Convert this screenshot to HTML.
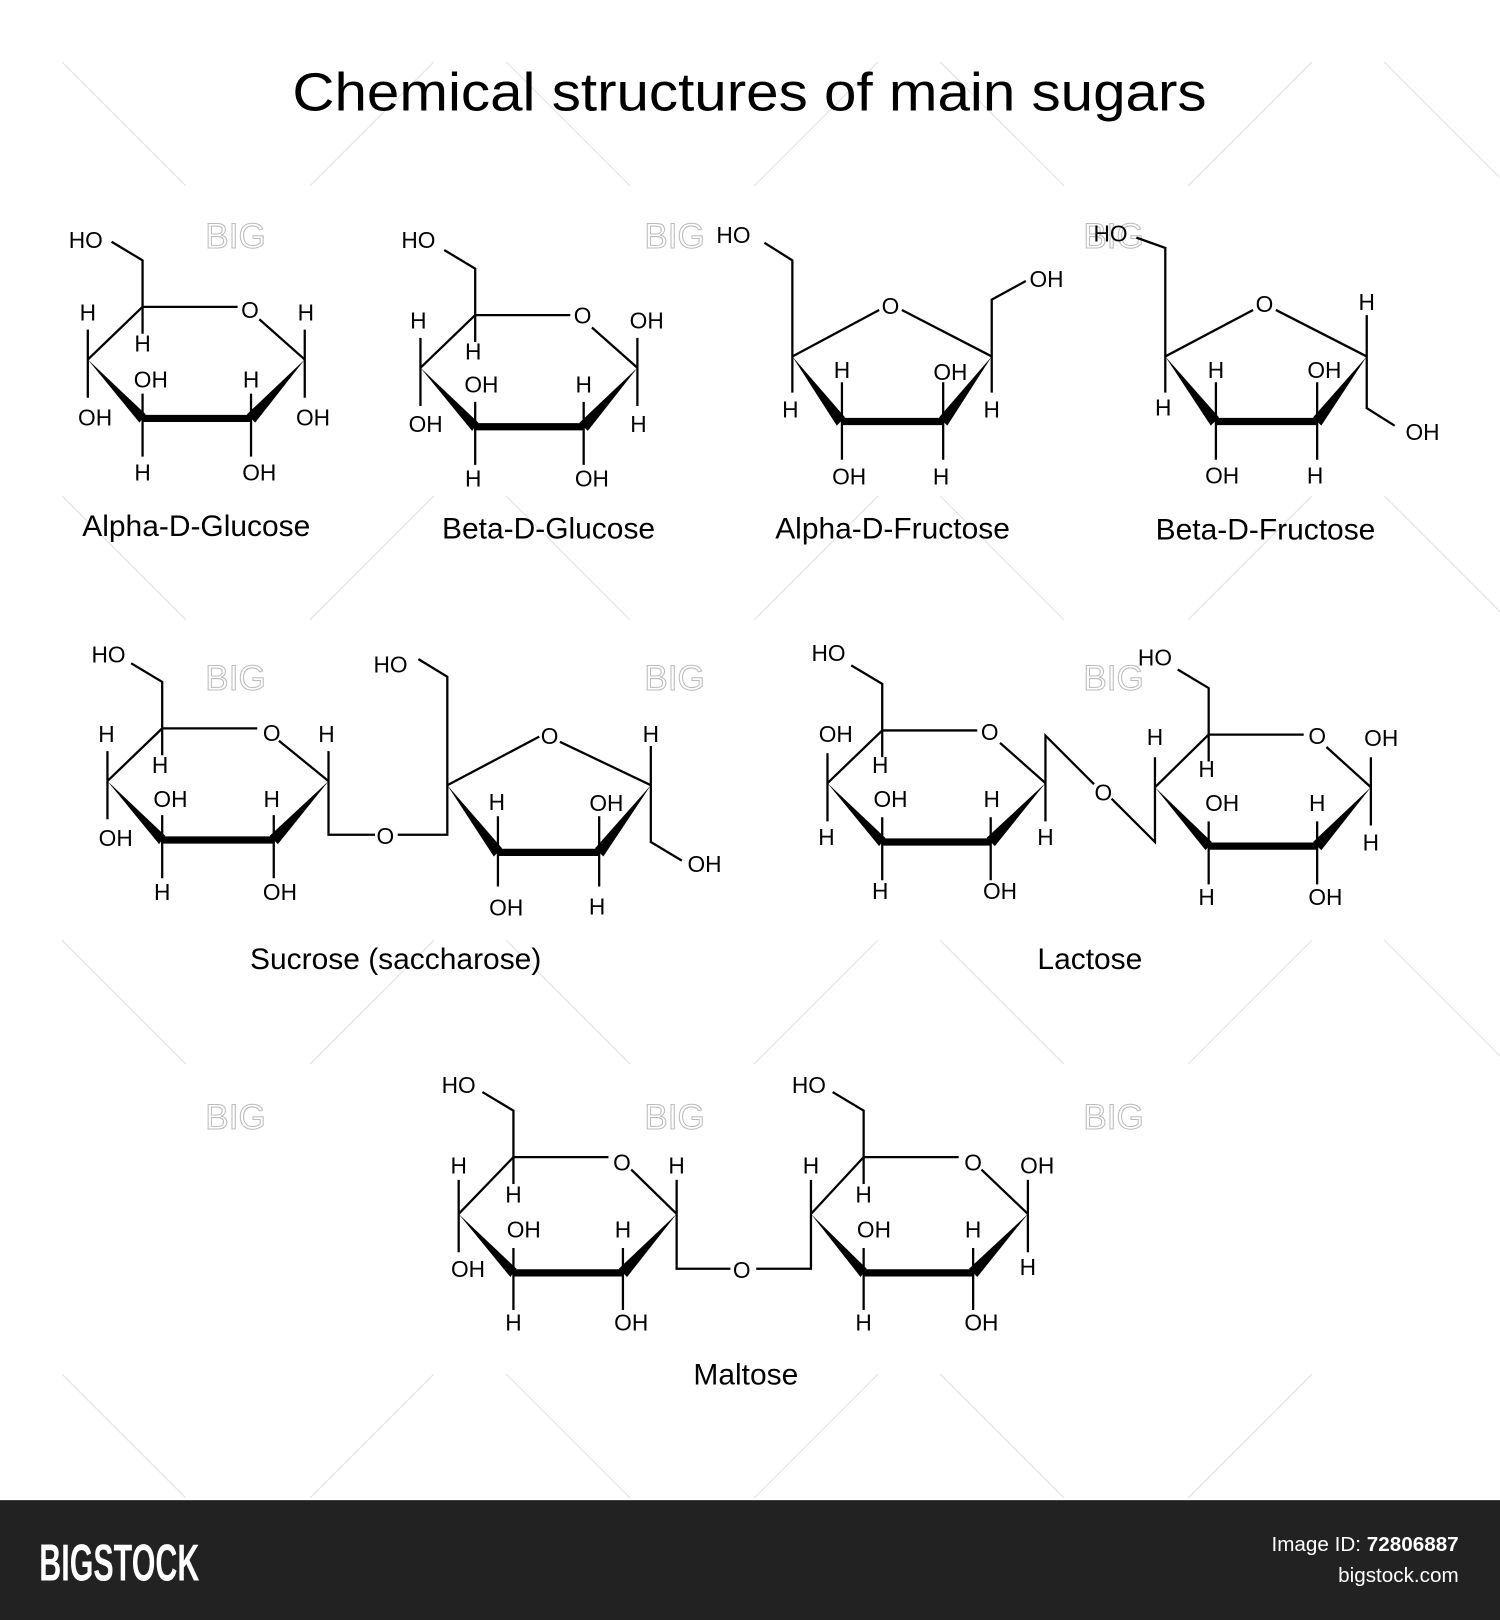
<!DOCTYPE html>
<html><head><meta charset="utf-8"><style>
html,body{margin:0;padding:0;background:#fff;}
svg{display:block;}
.s{stroke:#000;stroke-width:2.2;fill:none;}
.w{fill:#000;stroke:none;}
.b{stroke:#000;stroke-width:7;}
text{font-family:"Liberation Sans",Arial,sans-serif;fill:#000;}
.t{font-size:22px;text-anchor:middle;}
.l{font-size:29px;text-anchor:middle;}
.wm{font-size:34px;fill:none;stroke:#bbb;stroke-width:1;text-anchor:middle;}
</style></head><body>
<svg width="1500" height="1620" viewBox="0 0 1452 1568" preserveAspectRatio="none" xmlns="http://www.w3.org/2000/svg">
<rect width="1452" height="1568" fill="#fff"/>
<g stroke="#e4e4e4" stroke-width="1.2">
<path d="M60,60L180,180 M420,60L300,180 M490,60L610,180 M850,60L730,180 M910,60L1030,180 M1270,60L1150,180 M1340,60L1460,180"/>
<path d="M60,480L180,600 M420,480L300,600 M490,480L610,600 M850,480L730,600 M910,480L1030,600 M1270,480L1150,600 M1340,480L1460,600"/>
<path d="M60,910L180,1030 M420,910L300,1030 M490,910L610,1030 M850,910L730,1030 M910,910L1030,1030 M1270,910L1150,1030 M1340,910L1460,1030"/>
<path d="M60,1330L180,1450 M420,1330L300,1450 M490,1330L610,1450 M850,1330L730,1450 M910,1330L1030,1450 M1270,1330L1150,1450"/>
</g>
<text class="wm" x="228" y="240">BIG</text><text class="wm" x="653" y="240">BIG</text><text class="wm" x="1078" y="240">BIG</text>
<text class="wm" x="228" y="668">BIG</text><text class="wm" x="653" y="668">BIG</text><text class="wm" x="1078" y="668">BIG</text>
<text class="wm" x="228" y="1093">BIG</text><text class="wm" x="653" y="1093">BIG</text><text class="wm" x="1078" y="1093">BIG</text>

<text x="283" y="107" textLength="885" lengthAdjust="spacingAndGlyphs" style="font-size:52px">Chemical structures of main sugars</text>

<!-- Alpha-D-Glucose -->
<g transform="translate(138,297)">
<path class="s" d="M0,0V-45L-30,-63 M0,0H92 M113,12L157,51 M0,0L-53,51"/>
<polygon class="w" points="-53,51 3,104 -3,112"/><path class="b" d="M0,108H105"/><polygon class="w" points="101,104 109,112 157,51"/>
<path class="s" d="M0,0V26 M-53,51V22 M-53,51V88 M0,108V84 M0,108V145 M105,108V84 M105,108V145 M157,51V22 M157,51V88"/>
<text class="t" x="-55" y="-57">HO</text><text class="t" x="104" y="11">O</text>
<text class="t" x="0" y="43">H</text><text class="t" x="-53" y="13">H</text><text class="t" x="-46" y="115">OH</text>
<text class="t" x="8" y="78">OH</text><text class="t" x="0" y="168">H</text><text class="t" x="105" y="78">H</text>
<text class="t" x="113" y="168">OH</text><text class="t" x="158" y="13">H</text><text class="t" x="165" y="115">OH</text>
</g>
<text class="l" x="190" y="519">Alpha-D-Glucose</text>

<!-- Beta-D-Glucose -->
<g transform="translate(460,305)">
<path class="s" d="M0,0V-45L-30,-63 M0,0H92 M113,12L157,51 M0,0L-53,51"/>
<polygon class="w" points="-53,51 3,104 -3,112"/><path class="b" d="M0,108H105"/><polygon class="w" points="101,104 109,112 157,51"/>
<path class="s" d="M0,0V26 M-53,51V22 M-53,51V88 M0,108V84 M0,108V145 M105,108V84 M105,108V145 M157,51V22 M157,51V88"/>
<text class="t" x="-55" y="-65">HO</text><text class="t" x="104" y="8">O</text>
<text class="t" x="-2" y="43">H</text><text class="t" x="-55" y="13">H</text><text class="t" x="-48" y="113">OH</text>
<text class="t" x="6" y="75">OH</text><text class="t" x="-2" y="166">H</text><text class="t" x="105" y="75">H</text>
<text class="t" x="113" y="166">OH</text><text class="t" x="166" y="13">OH</text><text class="t" x="158" y="113">H</text>
</g>
<text class="l" x="531" y="521">Beta-D-Glucose</text>

<!-- Alpha-D-Fructose -->
<g>
<path class="s" d="M767,345V252L740,235 M767,345L851,300 M873,300L960,345 M960,345V290L993,272"/>
<polygon class="w" points="767,345 818,404 810,412"/><path class="b" d="M815,408H913"/><polygon class="w" points="909,404 917,412 960,345"/>
<path class="s" d="M767,345V380 M960,345V380 M815,408V370 M815,408V445 M913,408V370 M913,408V445"/>
<text class="t" x="710" y="235">HO</text><text class="t" x="862" y="304">O</text><text class="t" x="1013" y="278">OH</text>
<text class="t" x="765" y="404">H</text><text class="t" x="960" y="404">H</text>
<text class="t" x="815" y="366">H</text><text class="t" x="822" y="469">OH</text>
<text class="t" x="920" y="368">OH</text><text class="t" x="911" y="469">H</text>
</g>
<text class="l" x="864" y="521">Alpha-D-Fructose</text>

<!-- Beta-D-Fructose -->
<g>
<path class="s" d="M1128,345V240L1100,230 M1128,345L1213,300 M1235,300L1323,345 M1323,345V395L1350,412"/>
<polygon class="w" points="1128,345 1180,404 1172,412"/><path class="b" d="M1177,408H1275"/><polygon class="w" points="1271,404 1279,412 1323,345"/>
<path class="s" d="M1128,345V380 M1323,345V305 M1177,408V370 M1177,408V445 M1275,408V370 M1275,408V445"/>
<text class="t" x="1075" y="234">HO</text><text class="t" x="1224" y="302">O</text><text class="t" x="1323" y="300">H</text>
<text class="t" x="1126" y="402">H</text><text class="t" x="1377" y="426">OH</text>
<text class="t" x="1177" y="366">H</text><text class="t" x="1183" y="468">OH</text>
<text class="t" x="1282" y="366">OH</text><text class="t" x="1273" y="468">H</text>
</g>
<text class="l" x="1225" y="522">Beta-D-Fructose</text>

<!-- Sucrose glucose -->
<g transform="translate(157,705)">
<path class="s" d="M0,0V-45L-30,-63 M0,0H92 M113,12L161,51 M0,0L-53,51"/>
<polygon class="w" points="-53,51 3,104 -3,112"/><path class="b" d="M0,108H108"/><polygon class="w" points="104,104 112,112 161,51"/>
<path class="s" d="M0,0V26 M-53,51V22 M-53,51V88 M0,108V84 M0,108V145 M108,108V84 M108,108V145 M161,51V22 M161,51V103H206"/>
<text class="t" x="-52" y="-64">HO</text><text class="t" x="106" y="12">O</text>
<text class="t" x="-2" y="43">H</text><text class="t" x="-54" y="13">H</text><text class="t" x="-45" y="114">OH</text>
<text class="t" x="8" y="76">OH</text><text class="t" x="0" y="166">H</text><text class="t" x="106" y="76">H</text>
<text class="t" x="114" y="166">OH</text><text class="t" x="159" y="13">H</text>
<text class="t" x="216" y="112">O</text>
</g>
<!-- Sucrose fructose -->
<g>
<path class="s" d="M385,808H433V655L405,638 M433,760L522,713 M542,718L630,760 M630,760V722 M630,760V815L660,833"/>
<polygon class="w" points="433,760 486,821 478,829"/><path class="b" d="M482,825H580"/><polygon class="w" points="576,821 584,829 630,760"/>
<path class="s" d="M482,825V790 M482,825V858 M580,825V790 M580,825V858"/>
<text class="t" x="378" y="651">HO</text><text class="t" x="532" y="720">O</text><text class="t" x="630" y="718">H</text>
<text class="t" x="682" y="844">OH</text><text class="t" x="481" y="784">H</text><text class="t" x="490" y="886">OH</text>
<text class="t" x="587" y="785">OH</text><text class="t" x="578" y="885">H</text>
</g>
<text class="l" x="383" y="938">Sucrose (saccharose)</text>

<!-- Lactose left -->
<g transform="translate(854,707)">
<path class="s" d="M0,0V-45L-30,-63 M0,0H92 M114,12L158,51 M0,0L-53,51"/>
<polygon class="w" points="-53,51 3,104 -3,112"/><path class="b" d="M0,108H105"/><polygon class="w" points="101,104 109,112 158,51"/>
<path class="s" d="M0,0V26 M-53,51V22 M-53,51V88 M0,108V84 M0,108V145 M105,108V84 M105,108V145 M158,51V5L205,52 M158,51V88"/>
<text class="t" x="-52" y="-67">HO</text><text class="t" x="104" y="9">O</text>
<text class="t" x="-2" y="41">H</text><text class="t" x="-45" y="11">OH</text><text class="t" x="-54" y="111">H</text>
<text class="t" x="8" y="74">OH</text><text class="t" x="-2" y="163">H</text><text class="t" x="106" y="74">H</text>
<text class="t" x="114" y="163">OH</text><text class="t" x="158" y="111">H</text>
<text class="t" x="214" y="68">O</text>
</g>
<!-- Lactose right -->
<g transform="translate(1170,711)">
<path class="s" d="M0,0V-45L-30,-63 M0,0H92 M114,12L157,51 M0,0L-52,51 M-52,51V104L-94,62"/>
<polygon class="w" points="-52,51 3,104 -3,112"/><path class="b" d="M0,108H105"/><polygon class="w" points="101,104 109,112 157,51"/>
<path class="s" d="M0,0V26 M-52,51V22 M0,108V84 M0,108V145 M105,108V84 M105,108V145 M157,51V22 M157,51V88"/>
<text class="t" x="-52" y="-67">HO</text><text class="t" x="105" y="9">O</text>
<text class="t" x="-2" y="41">H</text><text class="t" x="-52" y="10">H</text>
<text class="t" x="13" y="74">OH</text><text class="t" x="-2" y="165">H</text><text class="t" x="105" y="74">H</text>
<text class="t" x="113" y="165">OH</text><text class="t" x="167" y="11">OH</text><text class="t" x="157" y="112">H</text>
</g>
<text class="l" x="1055" y="938">Lactose</text>

<!-- Maltose left -->
<g transform="translate(497,1120)">
<path class="s" d="M0,0V-45L-30,-63 M0,0H92 M114,12L158,55 M0,0L-53,55"/>
<polygon class="w" points="-53,55 3,108 -3,116"/><path class="b" d="M0,112H106"/><polygon class="w" points="102,108 110,116 158,55"/>
<path class="s" d="M0,0V26 M-53,55V22 M-53,55V92 M0,112V88 M0,112V148 M106,112V88 M106,112V148 M158,55V22 M158,55V108H210"/>
<text class="t" x="-53" y="-62">HO</text><text class="t" x="105" y="13">O</text>
<text class="t" x="0" y="44">H</text><text class="t" x="-53" y="16">H</text><text class="t" x="-44" y="116">OH</text>
<text class="t" x="10" y="78">OH</text><text class="t" x="0" y="168">H</text><text class="t" x="106" y="78">H</text>
<text class="t" x="114" y="168">OH</text><text class="t" x="158" y="16">H</text>
<text class="t" x="221" y="117">O</text>
</g>
<!-- Maltose right -->
<g transform="translate(836,1120)">
<path class="s" d="M0,0V-45L-30,-63 M0,0H92 M114,12L159,55 M0,0L-51,55 M-51,55V108H-104"/>
<polygon class="w" points="-51,55 3,108 -3,116"/><path class="b" d="M0,112H106"/><polygon class="w" points="102,108 110,116 159,55"/>
<path class="s" d="M0,0V26 M-51,55V22 M0,112V88 M0,112V148 M106,112V88 M106,112V148 M159,55V22 M159,55V92"/>
<text class="t" x="-53" y="-62">HO</text><text class="t" x="106" y="13">O</text>
<text class="t" x="0" y="44">H</text><text class="t" x="-51" y="16">H</text>
<text class="t" x="10" y="78">OH</text><text class="t" x="0" y="168">H</text><text class="t" x="106" y="78">H</text>
<text class="t" x="114" y="168">OH</text><text class="t" x="168" y="16">OH</text><text class="t" x="159" y="114">H</text>
</g>
<text class="l" x="722" y="1340">Maltose</text>

<!-- footer -->
<rect x="0" y="1452" width="1452" height="116" fill="#222"/>
<text x="38" y="1530" textLength="155" lengthAdjust="spacingAndGlyphs" style="font-size:50px;font-weight:bold;fill:#fff">BIGSTOCK</text>
<text x="1412" y="1501" style="font-size:20px;fill:#fff;text-anchor:end">Image ID: <tspan font-weight="bold">72806887</tspan></text>
<text x="1412" y="1531" style="font-size:20px;fill:#fff;text-anchor:end">bigstock.com</text>
</svg>
</body></html>
